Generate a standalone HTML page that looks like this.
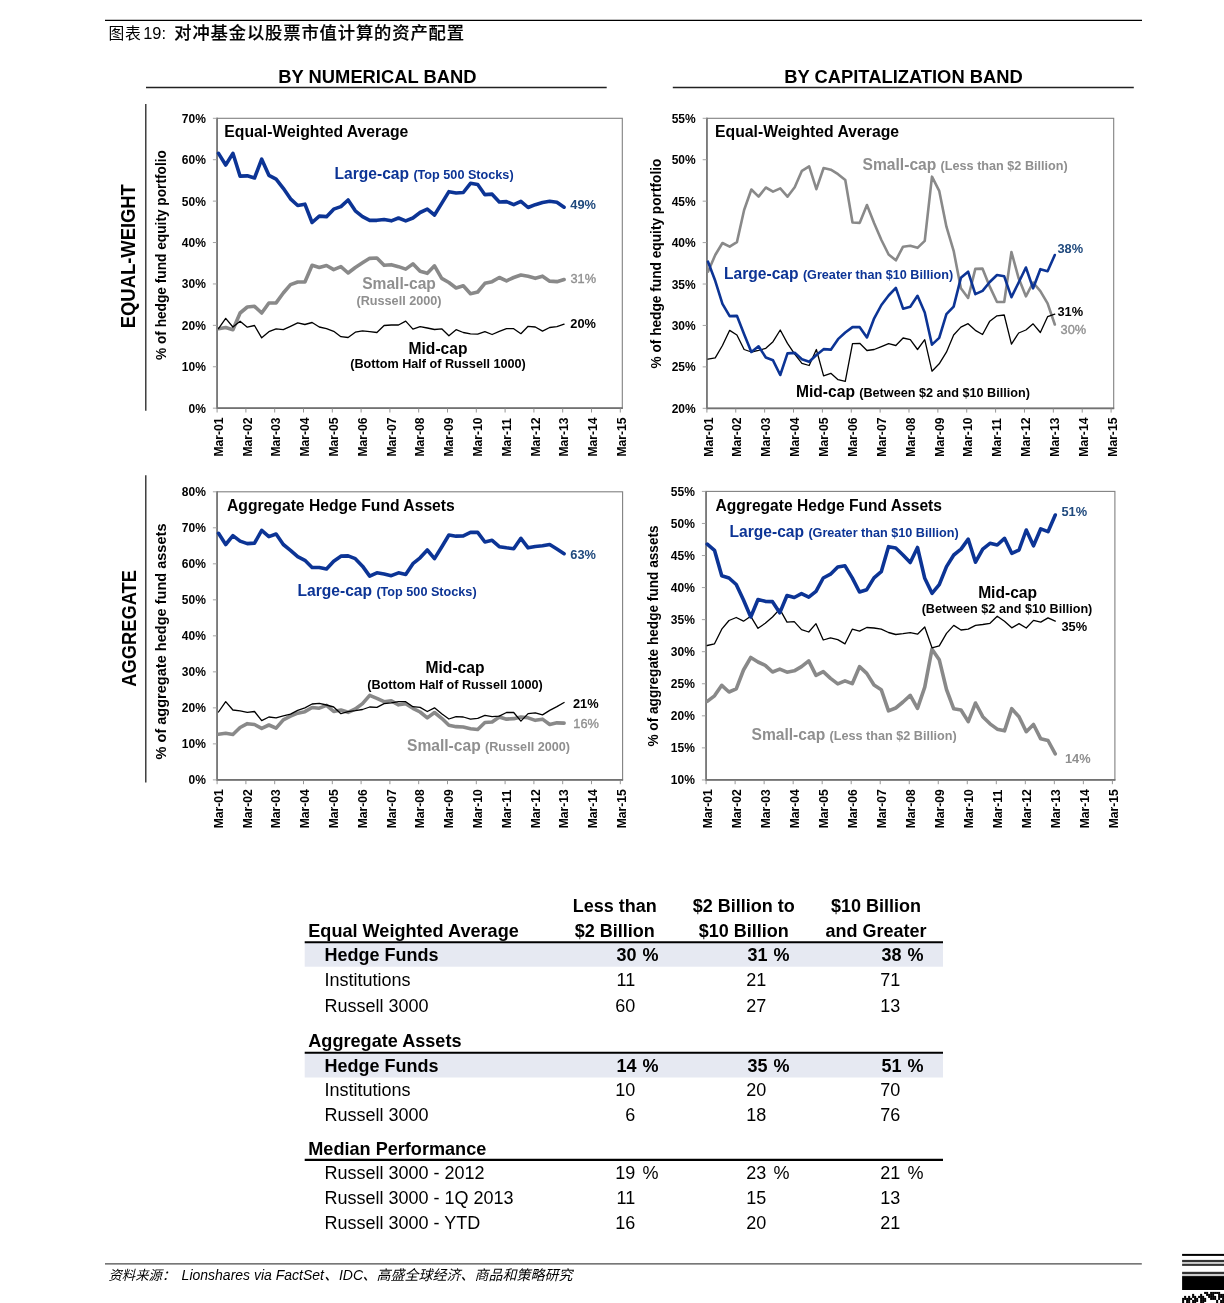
<!DOCTYPE html>
<html lang="zh"><head><meta charset="utf-8"><title>图表19</title>
<style>html,body{margin:0;padding:0;background:#fff}body{width:1224px;height:1303px;position:relative;overflow:hidden;font-family:"Liberation Sans","Noto Sans CJK SC",sans-serif}</style>
</head><body>
<svg width="1224" height="1303" viewBox="0 0 1224 1303" font-family="Liberation Sans, sans-serif" style="position:absolute;left:0;top:0">
<line x1="105" y1="20.4" x2="1142" y2="20.4" stroke="#000" stroke-width="1.2"/>
<text y="38.9" fill="#000" style="font-family:'Liberation Sans','Noto Sans CJK SC',sans-serif"><tspan x="108.5" font-size="15.8" letter-spacing="0.8">图表</tspan><tspan x="143.2" y="39.3" font-size="16.4">19:</tspan> <tspan x="174.3" y="39.3" font-size="17.3" letter-spacing="0.88" font-weight="500" stroke="#000" stroke-width="0.18">对冲基金以股票市值计算的资产配置</tspan></text>
<text x="377.4" y="82.6" font-size="18.35" font-weight="bold" fill="#000" text-anchor="middle" >BY NUMERICAL BAND</text>
<text x="903.5" y="82.6" font-size="18.35" font-weight="bold" fill="#000" text-anchor="middle" >BY CAPITALIZATION BAND</text>
<line x1="146" y1="87.5" x2="606.7" y2="87.5" stroke="#222" stroke-width="1.4"/>
<line x1="672.8" y1="87.5" x2="1133.8" y2="87.5" stroke="#222" stroke-width="1.4"/>
<line x1="145.8" y1="104" x2="145.8" y2="410.8" stroke="#222" stroke-width="1.3"/>
<line x1="145.8" y1="475.2" x2="145.8" y2="782.6" stroke="#222" stroke-width="1.3"/>
<text transform="translate(135.4,256.2) scale(1.06,1) rotate(-90)" font-size="18.4" font-weight="bold" fill="#000" text-anchor="middle">EQUAL-WEIGHT</text>
<text transform="translate(135.5,628.4) scale(1.06,1) rotate(-90)" font-size="18.3" font-weight="bold" fill="#000" text-anchor="middle">AGGREGATE</text>
<rect x="217.1" y="118.3" width="405.19999999999993" height="289.9" fill="none" stroke="#808080" stroke-width="1.1"/>
<line x1="217.1" y1="117.8" x2="217.1" y2="409.09999999999997" stroke="#7a7a7a" stroke-width="1.8"/>
<line x1="217.1" y1="408.2" x2="622.8" y2="408.2" stroke="#727272" stroke-width="1.7"/>
<line x1="212.9" y1="118.30" x2="217.1" y2="118.30" stroke="#9a9a9a" stroke-width="0.9"/>
<text x="205.90" y="122.80" font-size="12" font-weight="bold" fill="#000" text-anchor="end" >70%</text>
<line x1="212.9" y1="159.71" x2="217.1" y2="159.71" stroke="#9a9a9a" stroke-width="0.9"/>
<text x="205.90" y="164.21" font-size="12" font-weight="bold" fill="#000" text-anchor="end" >60%</text>
<line x1="212.9" y1="201.12" x2="217.1" y2="201.12" stroke="#9a9a9a" stroke-width="0.9"/>
<text x="205.90" y="205.62" font-size="12" font-weight="bold" fill="#000" text-anchor="end" >50%</text>
<line x1="212.9" y1="242.53" x2="217.1" y2="242.53" stroke="#9a9a9a" stroke-width="0.9"/>
<text x="205.90" y="247.03" font-size="12" font-weight="bold" fill="#000" text-anchor="end" >40%</text>
<line x1="212.9" y1="283.94" x2="217.1" y2="283.94" stroke="#9a9a9a" stroke-width="0.9"/>
<text x="205.90" y="288.44" font-size="12" font-weight="bold" fill="#000" text-anchor="end" >30%</text>
<line x1="212.9" y1="325.35" x2="217.1" y2="325.35" stroke="#9a9a9a" stroke-width="0.9"/>
<text x="205.90" y="329.85" font-size="12" font-weight="bold" fill="#000" text-anchor="end" >20%</text>
<line x1="212.9" y1="366.76" x2="217.1" y2="366.76" stroke="#9a9a9a" stroke-width="0.9"/>
<text x="205.90" y="371.26" font-size="12" font-weight="bold" fill="#000" text-anchor="end" >10%</text>
<line x1="212.9" y1="408.17" x2="217.1" y2="408.17" stroke="#9a9a9a" stroke-width="0.9"/>
<text x="205.90" y="412.67" font-size="12" font-weight="bold" fill="#000" text-anchor="end" >0%</text>
<line x1="217.10" y1="408.2" x2="217.10" y2="412.5" stroke="#8a8a8a" stroke-width="0.9"/>
<text transform="translate(222.80,456.59999999999997) scale(1.06,1) rotate(-90)" font-size="12.15" font-weight="bold" fill="#000" text-anchor="start">Mar-01</text>
<line x1="245.90" y1="408.2" x2="245.90" y2="412.5" stroke="#8a8a8a" stroke-width="0.9"/>
<text transform="translate(251.60,456.59999999999997) scale(1.06,1) rotate(-90)" font-size="12.15" font-weight="bold" fill="#000" text-anchor="start">Mar-02</text>
<line x1="274.70" y1="408.2" x2="274.70" y2="412.5" stroke="#8a8a8a" stroke-width="0.9"/>
<text transform="translate(280.40,456.59999999999997) scale(1.06,1) rotate(-90)" font-size="12.15" font-weight="bold" fill="#000" text-anchor="start">Mar-03</text>
<line x1="303.50" y1="408.2" x2="303.50" y2="412.5" stroke="#8a8a8a" stroke-width="0.9"/>
<text transform="translate(309.20,456.59999999999997) scale(1.06,1) rotate(-90)" font-size="12.15" font-weight="bold" fill="#000" text-anchor="start">Mar-04</text>
<line x1="332.30" y1="408.2" x2="332.30" y2="412.5" stroke="#8a8a8a" stroke-width="0.9"/>
<text transform="translate(338.00,456.59999999999997) scale(1.06,1) rotate(-90)" font-size="12.15" font-weight="bold" fill="#000" text-anchor="start">Mar-05</text>
<line x1="361.10" y1="408.2" x2="361.10" y2="412.5" stroke="#8a8a8a" stroke-width="0.9"/>
<text transform="translate(366.80,456.59999999999997) scale(1.06,1) rotate(-90)" font-size="12.15" font-weight="bold" fill="#000" text-anchor="start">Mar-06</text>
<line x1="389.90" y1="408.2" x2="389.90" y2="412.5" stroke="#8a8a8a" stroke-width="0.9"/>
<text transform="translate(395.60,456.59999999999997) scale(1.06,1) rotate(-90)" font-size="12.15" font-weight="bold" fill="#000" text-anchor="start">Mar-07</text>
<line x1="418.70" y1="408.2" x2="418.70" y2="412.5" stroke="#8a8a8a" stroke-width="0.9"/>
<text transform="translate(424.40,456.59999999999997) scale(1.06,1) rotate(-90)" font-size="12.15" font-weight="bold" fill="#000" text-anchor="start">Mar-08</text>
<line x1="447.50" y1="408.2" x2="447.50" y2="412.5" stroke="#8a8a8a" stroke-width="0.9"/>
<text transform="translate(453.20,456.59999999999997) scale(1.06,1) rotate(-90)" font-size="12.15" font-weight="bold" fill="#000" text-anchor="start">Mar-09</text>
<line x1="476.30" y1="408.2" x2="476.30" y2="412.5" stroke="#8a8a8a" stroke-width="0.9"/>
<text transform="translate(482.00,456.59999999999997) scale(1.06,1) rotate(-90)" font-size="12.15" font-weight="bold" fill="#000" text-anchor="start">Mar-10</text>
<line x1="505.10" y1="408.2" x2="505.10" y2="412.5" stroke="#8a8a8a" stroke-width="0.9"/>
<text transform="translate(510.80,456.59999999999997) scale(1.06,1) rotate(-90)" font-size="12.15" font-weight="bold" fill="#000" text-anchor="start">Mar-11</text>
<line x1="533.90" y1="408.2" x2="533.90" y2="412.5" stroke="#8a8a8a" stroke-width="0.9"/>
<text transform="translate(539.60,456.59999999999997) scale(1.06,1) rotate(-90)" font-size="12.15" font-weight="bold" fill="#000" text-anchor="start">Mar-12</text>
<line x1="562.70" y1="408.2" x2="562.70" y2="412.5" stroke="#8a8a8a" stroke-width="0.9"/>
<text transform="translate(568.40,456.59999999999997) scale(1.06,1) rotate(-90)" font-size="12.15" font-weight="bold" fill="#000" text-anchor="start">Mar-13</text>
<line x1="591.50" y1="408.2" x2="591.50" y2="412.5" stroke="#8a8a8a" stroke-width="0.9"/>
<text transform="translate(597.20,456.59999999999997) scale(1.06,1) rotate(-90)" font-size="12.15" font-weight="bold" fill="#000" text-anchor="start">Mar-14</text>
<line x1="620.30" y1="408.2" x2="620.30" y2="412.5" stroke="#8a8a8a" stroke-width="0.9"/>
<text transform="translate(626.00,456.59999999999997) scale(1.06,1) rotate(-90)" font-size="12.15" font-weight="bold" fill="#000" text-anchor="start">Mar-15</text>
<text transform="translate(166.2,255.1) scale(1.06,1) rotate(-90)" font-size="13.7" font-weight="bold" fill="#000" text-anchor="middle">% of hedge fund equity portfolio</text>
<polyline points="218.50,328.67 225.70,327.50 232.90,329.67 240.10,313.00 247.30,307.00 254.50,306.33 261.70,313.00 268.90,303.00 276.10,302.83 283.30,293.00 290.50,284.67 297.70,282.00 304.90,282.00 312.10,265.33 319.30,267.50 326.50,265.50 333.70,269.67 340.90,266.67 348.10,273.00 355.30,267.50 362.50,262.83 369.70,258.33 376.90,258.00 384.10,265.33 391.30,264.67 398.50,266.67 405.70,269.17 412.90,263.83 420.10,271.33 427.30,273.33 434.50,265.83 441.70,278.33 448.90,282.50 456.10,288.00 463.30,285.83 470.50,293.67 477.70,292.00 484.90,283.33 492.10,281.67 499.30,277.50 506.50,280.83 513.70,277.50 520.90,275.00 528.10,276.33 535.30,278.33 542.50,276.17 549.70,281.17 556.90,281.67 564.10,279.50" fill="none" stroke="#898989" stroke-width="3.6" stroke-linejoin="round" stroke-linecap="round"/>
<polyline points="218.50,328.67 225.70,318.33 232.90,327.00 240.10,321.17 247.30,327.17 254.50,325.50 261.70,337.83 268.90,331.67 276.10,328.83 283.30,329.67 290.50,326.33 297.70,322.83 304.90,324.50 312.10,322.50 319.30,327.00 326.50,328.67 333.70,331.33 340.90,336.67 348.10,337.50 355.30,332.17 362.50,330.83 369.70,331.67 376.90,332.50 384.10,325.50 391.30,325.00 398.50,325.00 405.70,321.17 412.90,329.17 420.10,326.67 427.30,328.00 434.50,329.50 441.70,328.83 448.90,335.83 456.10,329.67 463.30,332.50 470.50,333.83 477.70,334.17 484.90,331.67 492.10,334.50 499.30,331.33 506.50,328.67 513.70,328.67 520.90,333.67 528.10,326.33 535.30,327.00 542.50,331.17 549.70,327.50 556.90,326.67 564.10,324.17" fill="none" stroke="#000" stroke-width="1.3" stroke-linejoin="round" stroke-linecap="round"/>
<polyline points="218.50,153.33 225.70,165.00 232.90,153.33 240.10,176.17 247.30,175.83 254.50,178.00 261.70,159.17 268.90,175.33 276.10,179.17 283.30,188.33 290.50,198.83 297.70,205.50 304.90,204.17 312.10,222.50 319.30,216.17 326.50,216.67 333.70,209.17 340.90,206.67 348.10,200.00 355.30,210.83 362.50,216.67 369.70,220.33 376.90,220.33 384.10,219.50 391.30,220.83 398.50,218.00 405.70,220.83 412.90,218.00 420.10,212.50 427.30,209.17 434.50,215.00 441.70,203.33 448.90,191.67 456.10,193.00 463.30,192.50 470.50,183.33 477.70,184.50 484.90,194.67 492.10,194.17 499.30,202.00 506.50,201.67 513.70,204.67 520.90,201.33 528.10,207.50 535.30,204.67 542.50,202.50 549.70,201.33 556.90,202.17 564.10,207.17" fill="none" stroke="#0C3495" stroke-width="3.6" stroke-linejoin="round" stroke-linecap="round"/>
<text x="224.3" y="137" font-size="15.75" font-weight="bold" fill="#000" text-anchor="start" >Equal-Weighted Average</text>
<text x="334.5" y="178.7" font-size="15.6" font-weight="bold" fill="#0C3495">Large-cap <tspan font-size="12.65">(Top 500 Stocks)</tspan></text>
<text x="570.3" y="209.3" font-size="12.8" font-weight="bold" fill="#1F497D" text-anchor="start" >49%</text>
<text x="399" y="289.2" font-size="15.6" font-weight="bold" fill="#8F8F8F" text-anchor="middle" >Small-cap</text>
<text x="399" y="304.7" font-size="12.65" font-weight="bold" fill="#8F8F8F" text-anchor="middle" >(Russell 2000)</text>
<text x="570.5" y="282.6" font-size="12.8" font-weight="normal" fill="#8F8F8F" text-anchor="start" stroke="#8F8F8F" stroke-width="0.35">31%</text>
<text x="570.3" y="327.5" font-size="12.8" font-weight="bold" fill="#000" text-anchor="start" >20%</text>
<text x="438" y="353.5" font-size="15.6" font-weight="bold" fill="#000" text-anchor="middle" >Mid-cap</text>
<text x="438" y="368.4" font-size="12.65" font-weight="bold" fill="#000" text-anchor="middle" >(Bottom Half of Russell 1000)</text>
<rect x="706.9" y="118.3" width="406.80000000000007" height="290.0" fill="none" stroke="#808080" stroke-width="1.1"/>
<line x1="706.9" y1="117.8" x2="706.9" y2="409.2" stroke="#7a7a7a" stroke-width="1.8"/>
<line x1="706.9" y1="408.3" x2="1114.2" y2="408.3" stroke="#727272" stroke-width="1.7"/>
<line x1="702.6999999999999" y1="118.30" x2="706.9" y2="118.30" stroke="#9a9a9a" stroke-width="0.9"/>
<text x="695.70" y="122.80" font-size="12" font-weight="bold" fill="#000" text-anchor="end" >55%</text>
<line x1="702.6999999999999" y1="159.73" x2="706.9" y2="159.73" stroke="#9a9a9a" stroke-width="0.9"/>
<text x="695.70" y="164.23" font-size="12" font-weight="bold" fill="#000" text-anchor="end" >50%</text>
<line x1="702.6999999999999" y1="201.16" x2="706.9" y2="201.16" stroke="#9a9a9a" stroke-width="0.9"/>
<text x="695.70" y="205.66" font-size="12" font-weight="bold" fill="#000" text-anchor="end" >45%</text>
<line x1="702.6999999999999" y1="242.59" x2="706.9" y2="242.59" stroke="#9a9a9a" stroke-width="0.9"/>
<text x="695.70" y="247.09" font-size="12" font-weight="bold" fill="#000" text-anchor="end" >40%</text>
<line x1="702.6999999999999" y1="284.02" x2="706.9" y2="284.02" stroke="#9a9a9a" stroke-width="0.9"/>
<text x="695.70" y="288.52" font-size="12" font-weight="bold" fill="#000" text-anchor="end" >35%</text>
<line x1="702.6999999999999" y1="325.45" x2="706.9" y2="325.45" stroke="#9a9a9a" stroke-width="0.9"/>
<text x="695.70" y="329.95" font-size="12" font-weight="bold" fill="#000" text-anchor="end" >30%</text>
<line x1="702.6999999999999" y1="366.88" x2="706.9" y2="366.88" stroke="#9a9a9a" stroke-width="0.9"/>
<text x="695.70" y="371.38" font-size="12" font-weight="bold" fill="#000" text-anchor="end" >25%</text>
<line x1="702.6999999999999" y1="408.31" x2="706.9" y2="408.31" stroke="#9a9a9a" stroke-width="0.9"/>
<text x="695.70" y="412.81" font-size="12" font-weight="bold" fill="#000" text-anchor="end" >20%</text>
<line x1="706.90" y1="408.3" x2="706.90" y2="412.6" stroke="#8a8a8a" stroke-width="0.9"/>
<text transform="translate(712.60,456.7) scale(1.06,1) rotate(-90)" font-size="12.15" font-weight="bold" fill="#000" text-anchor="start">Mar-01</text>
<line x1="735.77" y1="408.3" x2="735.77" y2="412.6" stroke="#8a8a8a" stroke-width="0.9"/>
<text transform="translate(741.47,456.7) scale(1.06,1) rotate(-90)" font-size="12.15" font-weight="bold" fill="#000" text-anchor="start">Mar-02</text>
<line x1="764.64" y1="408.3" x2="764.64" y2="412.6" stroke="#8a8a8a" stroke-width="0.9"/>
<text transform="translate(770.34,456.7) scale(1.06,1) rotate(-90)" font-size="12.15" font-weight="bold" fill="#000" text-anchor="start">Mar-03</text>
<line x1="793.51" y1="408.3" x2="793.51" y2="412.6" stroke="#8a8a8a" stroke-width="0.9"/>
<text transform="translate(799.21,456.7) scale(1.06,1) rotate(-90)" font-size="12.15" font-weight="bold" fill="#000" text-anchor="start">Mar-04</text>
<line x1="822.38" y1="408.3" x2="822.38" y2="412.6" stroke="#8a8a8a" stroke-width="0.9"/>
<text transform="translate(828.08,456.7) scale(1.06,1) rotate(-90)" font-size="12.15" font-weight="bold" fill="#000" text-anchor="start">Mar-05</text>
<line x1="851.25" y1="408.3" x2="851.25" y2="412.6" stroke="#8a8a8a" stroke-width="0.9"/>
<text transform="translate(856.95,456.7) scale(1.06,1) rotate(-90)" font-size="12.15" font-weight="bold" fill="#000" text-anchor="start">Mar-06</text>
<line x1="880.12" y1="408.3" x2="880.12" y2="412.6" stroke="#8a8a8a" stroke-width="0.9"/>
<text transform="translate(885.82,456.7) scale(1.06,1) rotate(-90)" font-size="12.15" font-weight="bold" fill="#000" text-anchor="start">Mar-07</text>
<line x1="908.99" y1="408.3" x2="908.99" y2="412.6" stroke="#8a8a8a" stroke-width="0.9"/>
<text transform="translate(914.69,456.7) scale(1.06,1) rotate(-90)" font-size="12.15" font-weight="bold" fill="#000" text-anchor="start">Mar-08</text>
<line x1="937.86" y1="408.3" x2="937.86" y2="412.6" stroke="#8a8a8a" stroke-width="0.9"/>
<text transform="translate(943.56,456.7) scale(1.06,1) rotate(-90)" font-size="12.15" font-weight="bold" fill="#000" text-anchor="start">Mar-09</text>
<line x1="966.73" y1="408.3" x2="966.73" y2="412.6" stroke="#8a8a8a" stroke-width="0.9"/>
<text transform="translate(972.43,456.7) scale(1.06,1) rotate(-90)" font-size="12.15" font-weight="bold" fill="#000" text-anchor="start">Mar-10</text>
<line x1="995.60" y1="408.3" x2="995.60" y2="412.6" stroke="#8a8a8a" stroke-width="0.9"/>
<text transform="translate(1001.30,456.7) scale(1.06,1) rotate(-90)" font-size="12.15" font-weight="bold" fill="#000" text-anchor="start">Mar-11</text>
<line x1="1024.47" y1="408.3" x2="1024.47" y2="412.6" stroke="#8a8a8a" stroke-width="0.9"/>
<text transform="translate(1030.17,456.7) scale(1.06,1) rotate(-90)" font-size="12.15" font-weight="bold" fill="#000" text-anchor="start">Mar-12</text>
<line x1="1053.34" y1="408.3" x2="1053.34" y2="412.6" stroke="#8a8a8a" stroke-width="0.9"/>
<text transform="translate(1059.04,456.7) scale(1.06,1) rotate(-90)" font-size="12.15" font-weight="bold" fill="#000" text-anchor="start">Mar-13</text>
<line x1="1082.21" y1="408.3" x2="1082.21" y2="412.6" stroke="#8a8a8a" stroke-width="0.9"/>
<text transform="translate(1087.91,456.7) scale(1.06,1) rotate(-90)" font-size="12.15" font-weight="bold" fill="#000" text-anchor="start">Mar-14</text>
<line x1="1111.08" y1="408.3" x2="1111.08" y2="412.6" stroke="#8a8a8a" stroke-width="0.9"/>
<text transform="translate(1116.78,456.7) scale(1.06,1) rotate(-90)" font-size="12.15" font-weight="bold" fill="#000" text-anchor="start">Mar-15</text>
<text transform="translate(660.5,263.6) scale(1.06,1) rotate(-90)" font-size="13.7" font-weight="bold" fill="#000" text-anchor="middle">% of hedge fund equity portfolio</text>
<polyline points="708.00,271.67 715.23,255.00 722.45,243.00 729.67,246.67 736.90,242.17 744.12,210.00 751.35,189.50 758.58,196.67 765.80,187.50 773.02,191.67 780.25,188.33 787.48,196.67 794.70,187.17 801.92,170.83 809.15,166.33 816.38,189.17 823.60,168.00 830.83,169.67 838.05,174.17 845.27,180.00 852.50,222.50 859.73,222.83 866.95,205.00 874.17,223.33 881.40,240.00 888.62,254.50 895.85,260.33 903.08,246.67 910.30,245.83 917.52,247.83 924.75,240.83 931.98,176.67 939.20,190.83 946.42,226.67 953.65,250.83 960.88,288.33 968.10,298.00 975.33,268.83 982.55,268.67 989.77,286.67 997.00,302.00 1004.22,302.00 1011.45,252.00 1018.67,278.33 1025.90,296.33 1033.12,282.50 1040.35,291.17 1047.58,303.33 1054.80,324.50" fill="none" stroke="#898989" stroke-width="2.6" stroke-linejoin="round" stroke-linecap="round"/>
<polyline points="708.00,359.17 715.23,357.83 722.45,345.50 729.67,330.33 736.90,335.00 744.12,349.50 751.35,352.00 758.58,350.33 765.80,348.33 773.02,341.67 780.25,330.00 787.48,343.33 794.70,354.17 801.92,363.33 809.15,365.50 816.38,349.50 823.60,375.83 830.83,373.33 838.05,379.67 845.27,381.33 852.50,343.67 859.73,343.33 866.95,350.50 874.17,349.50 881.40,346.67 888.62,343.67 895.85,345.50 903.08,338.00 910.30,339.67 917.52,349.50 924.75,339.67 931.98,371.17 939.20,363.83 946.42,352.17 953.65,335.00 960.88,327.17 968.10,323.67 975.33,330.33 982.55,334.50 989.77,321.17 997.00,315.83 1004.22,315.00 1011.45,344.17 1018.67,333.00 1025.90,330.00 1033.12,323.83 1040.35,332.50 1047.58,316.67 1054.80,314.17" fill="none" stroke="#000" stroke-width="1.3" stroke-linejoin="round" stroke-linecap="round"/>
<polyline points="708.00,261.67 715.23,280.83 722.45,303.83 729.67,316.17 736.90,315.83 744.12,334.17 751.35,352.00 758.58,346.33 765.80,357.50 773.02,360.33 780.25,375.00 787.48,353.33 794.70,352.83 801.92,359.17 809.15,361.67 816.38,355.00 823.60,349.17 830.83,349.67 838.05,339.17 845.27,332.50 852.50,327.17 859.73,327.17 866.95,337.50 874.17,318.33 881.40,305.00 888.62,295.50 895.85,287.83 903.08,308.67 910.30,306.67 917.52,295.83 924.75,312.50 931.98,344.67 939.20,337.83 946.42,314.17 953.65,306.67 960.88,277.83 968.10,271.67 975.33,294.17 982.55,290.83 989.77,282.00 997.00,275.00 1004.22,276.33 1011.45,297.17 1018.67,282.50 1025.90,267.50 1033.12,288.33 1040.35,269.17 1047.58,271.17 1054.80,255.00" fill="none" stroke="#0C3495" stroke-width="2.6" stroke-linejoin="round" stroke-linecap="round"/>
<text x="715" y="137" font-size="15.75" font-weight="bold" fill="#000" text-anchor="start" >Equal-Weighted Average</text>
<text x="862.6" y="170" font-size="15.6" font-weight="bold" fill="#8F8F8F">Small-cap <tspan font-size="12.65">(Less than $2 Billion)</tspan></text>
<text x="724" y="278.5" font-size="15.6" font-weight="bold" fill="#0C3495">Large-cap <tspan font-size="12.65">(Greater than $10 Billion)</tspan></text>
<text x="796" y="397" font-size="15.6" font-weight="bold" fill="#000">Mid-cap <tspan font-size="12.65">(Between $2 and $10 Billion)</tspan></text>
<text x="1057.5" y="252.7" font-size="12.8" font-weight="bold" fill="#1F497D" text-anchor="start" >38%</text>
<text x="1057.5" y="316.3" font-size="12.8" font-weight="bold" fill="#000" text-anchor="start" >31%</text>
<text x="1060.6" y="334.4" font-size="12.8" font-weight="normal" fill="#8F8F8F" text-anchor="start" stroke="#8F8F8F" stroke-width="0.35">30%</text>
<rect x="217.1" y="491.8" width="405.5" height="288.09999999999997" fill="none" stroke="#808080" stroke-width="1.1"/>
<line x1="217.1" y1="491.3" x2="217.1" y2="780.8" stroke="#7a7a7a" stroke-width="1.8"/>
<line x1="217.1" y1="779.9" x2="623.1" y2="779.9" stroke="#727272" stroke-width="1.7"/>
<line x1="212.9" y1="491.80" x2="217.1" y2="491.80" stroke="#9a9a9a" stroke-width="0.9"/>
<text x="205.90" y="496.30" font-size="12" font-weight="bold" fill="#000" text-anchor="end" >80%</text>
<line x1="212.9" y1="527.81" x2="217.1" y2="527.81" stroke="#9a9a9a" stroke-width="0.9"/>
<text x="205.90" y="532.31" font-size="12" font-weight="bold" fill="#000" text-anchor="end" >70%</text>
<line x1="212.9" y1="563.82" x2="217.1" y2="563.82" stroke="#9a9a9a" stroke-width="0.9"/>
<text x="205.90" y="568.32" font-size="12" font-weight="bold" fill="#000" text-anchor="end" >60%</text>
<line x1="212.9" y1="599.83" x2="217.1" y2="599.83" stroke="#9a9a9a" stroke-width="0.9"/>
<text x="205.90" y="604.33" font-size="12" font-weight="bold" fill="#000" text-anchor="end" >50%</text>
<line x1="212.9" y1="635.84" x2="217.1" y2="635.84" stroke="#9a9a9a" stroke-width="0.9"/>
<text x="205.90" y="640.34" font-size="12" font-weight="bold" fill="#000" text-anchor="end" >40%</text>
<line x1="212.9" y1="671.85" x2="217.1" y2="671.85" stroke="#9a9a9a" stroke-width="0.9"/>
<text x="205.90" y="676.35" font-size="12" font-weight="bold" fill="#000" text-anchor="end" >30%</text>
<line x1="212.9" y1="707.86" x2="217.1" y2="707.86" stroke="#9a9a9a" stroke-width="0.9"/>
<text x="205.90" y="712.36" font-size="12" font-weight="bold" fill="#000" text-anchor="end" >20%</text>
<line x1="212.9" y1="743.87" x2="217.1" y2="743.87" stroke="#9a9a9a" stroke-width="0.9"/>
<text x="205.90" y="748.37" font-size="12" font-weight="bold" fill="#000" text-anchor="end" >10%</text>
<line x1="212.9" y1="779.88" x2="217.1" y2="779.88" stroke="#9a9a9a" stroke-width="0.9"/>
<text x="205.90" y="784.38" font-size="12" font-weight="bold" fill="#000" text-anchor="end" >0%</text>
<line x1="217.10" y1="779.9" x2="217.10" y2="784.1999999999999" stroke="#8a8a8a" stroke-width="0.9"/>
<text transform="translate(222.80,828.3) scale(1.06,1) rotate(-90)" font-size="12.15" font-weight="bold" fill="#000" text-anchor="start">Mar-01</text>
<line x1="245.90" y1="779.9" x2="245.90" y2="784.1999999999999" stroke="#8a8a8a" stroke-width="0.9"/>
<text transform="translate(251.60,828.3) scale(1.06,1) rotate(-90)" font-size="12.15" font-weight="bold" fill="#000" text-anchor="start">Mar-02</text>
<line x1="274.70" y1="779.9" x2="274.70" y2="784.1999999999999" stroke="#8a8a8a" stroke-width="0.9"/>
<text transform="translate(280.40,828.3) scale(1.06,1) rotate(-90)" font-size="12.15" font-weight="bold" fill="#000" text-anchor="start">Mar-03</text>
<line x1="303.50" y1="779.9" x2="303.50" y2="784.1999999999999" stroke="#8a8a8a" stroke-width="0.9"/>
<text transform="translate(309.20,828.3) scale(1.06,1) rotate(-90)" font-size="12.15" font-weight="bold" fill="#000" text-anchor="start">Mar-04</text>
<line x1="332.30" y1="779.9" x2="332.30" y2="784.1999999999999" stroke="#8a8a8a" stroke-width="0.9"/>
<text transform="translate(338.00,828.3) scale(1.06,1) rotate(-90)" font-size="12.15" font-weight="bold" fill="#000" text-anchor="start">Mar-05</text>
<line x1="361.10" y1="779.9" x2="361.10" y2="784.1999999999999" stroke="#8a8a8a" stroke-width="0.9"/>
<text transform="translate(366.80,828.3) scale(1.06,1) rotate(-90)" font-size="12.15" font-weight="bold" fill="#000" text-anchor="start">Mar-06</text>
<line x1="389.90" y1="779.9" x2="389.90" y2="784.1999999999999" stroke="#8a8a8a" stroke-width="0.9"/>
<text transform="translate(395.60,828.3) scale(1.06,1) rotate(-90)" font-size="12.15" font-weight="bold" fill="#000" text-anchor="start">Mar-07</text>
<line x1="418.70" y1="779.9" x2="418.70" y2="784.1999999999999" stroke="#8a8a8a" stroke-width="0.9"/>
<text transform="translate(424.40,828.3) scale(1.06,1) rotate(-90)" font-size="12.15" font-weight="bold" fill="#000" text-anchor="start">Mar-08</text>
<line x1="447.50" y1="779.9" x2="447.50" y2="784.1999999999999" stroke="#8a8a8a" stroke-width="0.9"/>
<text transform="translate(453.20,828.3) scale(1.06,1) rotate(-90)" font-size="12.15" font-weight="bold" fill="#000" text-anchor="start">Mar-09</text>
<line x1="476.30" y1="779.9" x2="476.30" y2="784.1999999999999" stroke="#8a8a8a" stroke-width="0.9"/>
<text transform="translate(482.00,828.3) scale(1.06,1) rotate(-90)" font-size="12.15" font-weight="bold" fill="#000" text-anchor="start">Mar-10</text>
<line x1="505.10" y1="779.9" x2="505.10" y2="784.1999999999999" stroke="#8a8a8a" stroke-width="0.9"/>
<text transform="translate(510.80,828.3) scale(1.06,1) rotate(-90)" font-size="12.15" font-weight="bold" fill="#000" text-anchor="start">Mar-11</text>
<line x1="533.90" y1="779.9" x2="533.90" y2="784.1999999999999" stroke="#8a8a8a" stroke-width="0.9"/>
<text transform="translate(539.60,828.3) scale(1.06,1) rotate(-90)" font-size="12.15" font-weight="bold" fill="#000" text-anchor="start">Mar-12</text>
<line x1="562.70" y1="779.9" x2="562.70" y2="784.1999999999999" stroke="#8a8a8a" stroke-width="0.9"/>
<text transform="translate(568.40,828.3) scale(1.06,1) rotate(-90)" font-size="12.15" font-weight="bold" fill="#000" text-anchor="start">Mar-13</text>
<line x1="591.50" y1="779.9" x2="591.50" y2="784.1999999999999" stroke="#8a8a8a" stroke-width="0.9"/>
<text transform="translate(597.20,828.3) scale(1.06,1) rotate(-90)" font-size="12.15" font-weight="bold" fill="#000" text-anchor="start">Mar-14</text>
<line x1="620.30" y1="779.9" x2="620.30" y2="784.1999999999999" stroke="#8a8a8a" stroke-width="0.9"/>
<text transform="translate(626.00,828.3) scale(1.06,1) rotate(-90)" font-size="12.15" font-weight="bold" fill="#000" text-anchor="start">Mar-15</text>
<text transform="translate(165.8,641.5) scale(1.06,1) rotate(-90)" font-size="14.55" font-weight="bold" fill="#000" text-anchor="middle">% of aggregate hedge fund assets</text>
<polyline points="218.50,734.17 225.70,733.33 232.90,734.50 240.10,727.50 247.30,723.67 254.50,724.50 261.70,728.33 268.90,725.00 276.10,728.17 283.30,719.83 290.50,716.17 297.70,713.17 304.90,711.67 312.10,707.50 319.30,708.17 326.50,705.33 333.70,711.50 340.90,710.00 348.10,712.33 355.30,709.00 362.50,703.67 369.70,695.33 376.90,698.33 384.10,701.67 391.30,700.83 398.50,704.83 405.70,703.67 412.90,708.33 420.10,712.00 427.30,717.83 434.50,712.50 441.70,718.33 448.90,725.33 456.10,726.67 463.30,727.00 470.50,728.67 477.70,729.50 484.90,722.50 492.10,722.00 499.30,717.00 506.50,719.17 513.70,718.67 520.90,717.00 528.10,717.83 535.30,720.33 542.50,719.17 549.70,724.50 556.90,722.83 564.10,723.17" fill="none" stroke="#898989" stroke-width="3.6" stroke-linejoin="round" stroke-linecap="round"/>
<polyline points="218.50,712.00 225.70,701.67 232.90,710.00 240.10,710.83 247.30,712.33 254.50,711.50 261.70,720.67 268.90,717.00 276.10,717.83 283.30,715.83 290.50,714.17 297.70,710.33 304.90,707.83 312.10,704.00 319.30,703.33 326.50,705.00 333.70,707.00 340.90,713.67 348.10,711.67 355.30,710.67 362.50,709.50 369.70,707.00 376.90,707.33 384.10,703.67 391.30,702.83 398.50,701.67 405.70,701.67 412.90,706.67 420.10,707.33 427.30,711.50 434.50,707.83 441.70,713.67 448.90,719.00 456.10,716.67 463.30,717.00 470.50,719.17 477.70,718.33 484.90,715.33 492.10,716.67 499.30,716.17 506.50,712.50 513.70,712.50 520.90,721.17 528.10,713.67 535.30,712.83 542.50,714.83 549.70,710.33 556.90,706.67 564.10,702.50" fill="none" stroke="#000" stroke-width="1.3" stroke-linejoin="round" stroke-linecap="round"/>
<polyline points="218.50,533.33 225.70,544.50 232.90,535.67 240.10,541.17 247.30,543.67 254.50,543.17 261.70,530.33 268.90,536.67 276.10,534.00 283.30,544.50 290.50,550.33 297.70,556.67 304.90,560.33 312.10,567.50 319.30,567.50 326.50,569.00 333.70,561.17 340.90,556.17 348.10,555.83 355.30,558.67 362.50,566.17 369.70,576.17 376.90,572.83 384.10,574.00 391.30,575.67 398.50,572.83 405.70,574.50 412.90,563.67 420.10,557.83 427.30,550.00 434.50,558.67 441.70,547.00 448.90,535.00 456.10,536.17 463.30,535.83 470.50,532.33 477.70,532.33 484.90,542.00 492.10,540.33 499.30,546.67 506.50,547.83 513.70,548.67 520.90,538.33 528.10,547.83 535.30,546.50 542.50,545.83 549.70,544.50 556.90,549.00 564.10,553.67" fill="none" stroke="#0C3495" stroke-width="3.6" stroke-linejoin="round" stroke-linecap="round"/>
<text x="227" y="510.5" font-size="15.7" font-weight="bold" fill="#000" text-anchor="start" >Aggregate Hedge Fund Assets</text>
<text x="297.5" y="596" font-size="15.6" font-weight="bold" fill="#0C3495">Large-cap <tspan font-size="12.65">(Top 500 Stocks)</tspan></text>
<text x="570.3" y="559" font-size="12.8" font-weight="bold" fill="#1F497D" text-anchor="start" >63%</text>
<text x="455" y="673" font-size="15.6" font-weight="bold" fill="#000" text-anchor="middle" >Mid-cap</text>
<text x="455" y="689" font-size="12.65" font-weight="bold" fill="#000" text-anchor="middle" >(Bottom Half of Russell 1000)</text>
<text x="573" y="707.5" font-size="12.8" font-weight="bold" fill="#000" text-anchor="start" >21%</text>
<text x="573.3" y="728.2" font-size="12.8" font-weight="normal" fill="#8F8F8F" text-anchor="start" stroke="#8F8F8F" stroke-width="0.35">16%</text>
<text x="407" y="751" font-size="15.6" font-weight="bold" fill="#8F8F8F">Small-cap <tspan font-size="12.65">(Russell 2000)</tspan></text>
<rect x="706.1" y="491.4" width="408.80000000000007" height="288.5" fill="none" stroke="#808080" stroke-width="1.1"/>
<line x1="706.1" y1="490.9" x2="706.1" y2="780.8" stroke="#7a7a7a" stroke-width="1.8"/>
<line x1="706.1" y1="779.9" x2="1115.4" y2="779.9" stroke="#727272" stroke-width="1.7"/>
<line x1="701.9" y1="491.40" x2="706.1" y2="491.40" stroke="#9a9a9a" stroke-width="0.9"/>
<text x="694.90" y="495.90" font-size="12" font-weight="bold" fill="#000" text-anchor="end" >55%</text>
<line x1="701.9" y1="523.46" x2="706.1" y2="523.46" stroke="#9a9a9a" stroke-width="0.9"/>
<text x="694.90" y="527.96" font-size="12" font-weight="bold" fill="#000" text-anchor="end" >50%</text>
<line x1="701.9" y1="555.52" x2="706.1" y2="555.52" stroke="#9a9a9a" stroke-width="0.9"/>
<text x="694.90" y="560.02" font-size="12" font-weight="bold" fill="#000" text-anchor="end" >45%</text>
<line x1="701.9" y1="587.58" x2="706.1" y2="587.58" stroke="#9a9a9a" stroke-width="0.9"/>
<text x="694.90" y="592.08" font-size="12" font-weight="bold" fill="#000" text-anchor="end" >40%</text>
<line x1="701.9" y1="619.64" x2="706.1" y2="619.64" stroke="#9a9a9a" stroke-width="0.9"/>
<text x="694.90" y="624.14" font-size="12" font-weight="bold" fill="#000" text-anchor="end" >35%</text>
<line x1="701.9" y1="651.70" x2="706.1" y2="651.70" stroke="#9a9a9a" stroke-width="0.9"/>
<text x="694.90" y="656.20" font-size="12" font-weight="bold" fill="#000" text-anchor="end" >30%</text>
<line x1="701.9" y1="683.76" x2="706.1" y2="683.76" stroke="#9a9a9a" stroke-width="0.9"/>
<text x="694.90" y="688.26" font-size="12" font-weight="bold" fill="#000" text-anchor="end" >25%</text>
<line x1="701.9" y1="715.82" x2="706.1" y2="715.82" stroke="#9a9a9a" stroke-width="0.9"/>
<text x="694.90" y="720.32" font-size="12" font-weight="bold" fill="#000" text-anchor="end" >20%</text>
<line x1="701.9" y1="747.88" x2="706.1" y2="747.88" stroke="#9a9a9a" stroke-width="0.9"/>
<text x="694.90" y="752.38" font-size="12" font-weight="bold" fill="#000" text-anchor="end" >15%</text>
<line x1="701.9" y1="779.94" x2="706.1" y2="779.94" stroke="#9a9a9a" stroke-width="0.9"/>
<text x="694.90" y="784.44" font-size="12" font-weight="bold" fill="#000" text-anchor="end" >10%</text>
<line x1="706.10" y1="779.9" x2="706.10" y2="784.1999999999999" stroke="#8a8a8a" stroke-width="0.9"/>
<text transform="translate(711.80,828.3) scale(1.06,1) rotate(-90)" font-size="12.15" font-weight="bold" fill="#000" text-anchor="start">Mar-01</text>
<line x1="735.12" y1="779.9" x2="735.12" y2="784.1999999999999" stroke="#8a8a8a" stroke-width="0.9"/>
<text transform="translate(740.82,828.3) scale(1.06,1) rotate(-90)" font-size="12.15" font-weight="bold" fill="#000" text-anchor="start">Mar-02</text>
<line x1="764.14" y1="779.9" x2="764.14" y2="784.1999999999999" stroke="#8a8a8a" stroke-width="0.9"/>
<text transform="translate(769.84,828.3) scale(1.06,1) rotate(-90)" font-size="12.15" font-weight="bold" fill="#000" text-anchor="start">Mar-03</text>
<line x1="793.16" y1="779.9" x2="793.16" y2="784.1999999999999" stroke="#8a8a8a" stroke-width="0.9"/>
<text transform="translate(798.86,828.3) scale(1.06,1) rotate(-90)" font-size="12.15" font-weight="bold" fill="#000" text-anchor="start">Mar-04</text>
<line x1="822.18" y1="779.9" x2="822.18" y2="784.1999999999999" stroke="#8a8a8a" stroke-width="0.9"/>
<text transform="translate(827.88,828.3) scale(1.06,1) rotate(-90)" font-size="12.15" font-weight="bold" fill="#000" text-anchor="start">Mar-05</text>
<line x1="851.20" y1="779.9" x2="851.20" y2="784.1999999999999" stroke="#8a8a8a" stroke-width="0.9"/>
<text transform="translate(856.90,828.3) scale(1.06,1) rotate(-90)" font-size="12.15" font-weight="bold" fill="#000" text-anchor="start">Mar-06</text>
<line x1="880.22" y1="779.9" x2="880.22" y2="784.1999999999999" stroke="#8a8a8a" stroke-width="0.9"/>
<text transform="translate(885.92,828.3) scale(1.06,1) rotate(-90)" font-size="12.15" font-weight="bold" fill="#000" text-anchor="start">Mar-07</text>
<line x1="909.24" y1="779.9" x2="909.24" y2="784.1999999999999" stroke="#8a8a8a" stroke-width="0.9"/>
<text transform="translate(914.94,828.3) scale(1.06,1) rotate(-90)" font-size="12.15" font-weight="bold" fill="#000" text-anchor="start">Mar-08</text>
<line x1="938.26" y1="779.9" x2="938.26" y2="784.1999999999999" stroke="#8a8a8a" stroke-width="0.9"/>
<text transform="translate(943.96,828.3) scale(1.06,1) rotate(-90)" font-size="12.15" font-weight="bold" fill="#000" text-anchor="start">Mar-09</text>
<line x1="967.28" y1="779.9" x2="967.28" y2="784.1999999999999" stroke="#8a8a8a" stroke-width="0.9"/>
<text transform="translate(972.98,828.3) scale(1.06,1) rotate(-90)" font-size="12.15" font-weight="bold" fill="#000" text-anchor="start">Mar-10</text>
<line x1="996.30" y1="779.9" x2="996.30" y2="784.1999999999999" stroke="#8a8a8a" stroke-width="0.9"/>
<text transform="translate(1002.00,828.3) scale(1.06,1) rotate(-90)" font-size="12.15" font-weight="bold" fill="#000" text-anchor="start">Mar-11</text>
<line x1="1025.32" y1="779.9" x2="1025.32" y2="784.1999999999999" stroke="#8a8a8a" stroke-width="0.9"/>
<text transform="translate(1031.02,828.3) scale(1.06,1) rotate(-90)" font-size="12.15" font-weight="bold" fill="#000" text-anchor="start">Mar-12</text>
<line x1="1054.34" y1="779.9" x2="1054.34" y2="784.1999999999999" stroke="#8a8a8a" stroke-width="0.9"/>
<text transform="translate(1060.04,828.3) scale(1.06,1) rotate(-90)" font-size="12.15" font-weight="bold" fill="#000" text-anchor="start">Mar-13</text>
<line x1="1083.36" y1="779.9" x2="1083.36" y2="784.1999999999999" stroke="#8a8a8a" stroke-width="0.9"/>
<text transform="translate(1089.06,828.3) scale(1.06,1) rotate(-90)" font-size="12.15" font-weight="bold" fill="#000" text-anchor="start">Mar-14</text>
<line x1="1112.38" y1="779.9" x2="1112.38" y2="784.1999999999999" stroke="#8a8a8a" stroke-width="0.9"/>
<text transform="translate(1118.08,828.3) scale(1.06,1) rotate(-90)" font-size="12.15" font-weight="bold" fill="#000" text-anchor="start">Mar-15</text>
<text transform="translate(658,636) scale(1.06,1) rotate(-90)" font-size="13.65" font-weight="bold" fill="#000" text-anchor="middle">% of aggregate hedge fund assets</text>
<polyline points="707.25,701.33 714.50,695.83 721.75,685.33 729.00,692.00 736.25,688.83 743.50,670.00 750.75,657.50 758.00,662.00 765.25,665.33 772.50,672.00 779.75,669.17 787.00,672.17 794.25,670.83 801.50,666.67 808.75,660.83 816.00,675.33 823.25,671.67 830.50,678.33 837.75,683.83 845.00,680.83 852.25,683.67 859.50,666.67 866.75,673.33 874.00,685.00 881.25,689.67 888.50,710.83 895.75,708.00 903.00,702.00 910.25,695.33 917.50,708.33 924.75,687.17 932.00,649.17 939.25,659.67 946.50,689.50 953.75,708.83 961.00,710.00 968.25,721.67 975.50,703.00 982.75,716.67 990.00,723.83 997.25,729.17 1004.50,730.83 1011.75,708.67 1019.00,716.67 1026.25,731.67 1033.50,724.50 1040.75,738.83 1048.00,740.50 1055.25,753.83" fill="none" stroke="#898989" stroke-width="3.6" stroke-linejoin="round" stroke-linecap="round"/>
<polyline points="707.25,645.50 714.50,643.83 721.75,629.17 729.00,620.50 736.25,617.50 743.50,621.17 750.75,616.33 758.00,628.33 765.25,623.33 772.50,617.00 779.75,609.17 787.00,622.17 794.25,621.67 801.50,629.67 808.75,632.00 816.00,623.67 823.25,640.00 830.50,637.83 837.75,639.67 845.00,643.83 852.25,629.17 859.50,631.17 866.75,627.50 874.00,628.00 881.25,629.17 888.50,632.50 895.75,634.50 903.00,633.67 910.25,632.67 917.50,634.17 924.75,627.00 932.00,647.83 939.25,645.83 946.50,633.33 953.75,625.33 961.00,630.00 968.25,629.17 975.50,625.33 982.75,624.50 990.00,623.33 997.25,616.17 1004.50,621.17 1011.75,627.83 1019.00,623.67 1026.25,628.00 1033.50,620.33 1040.75,622.17 1048.00,617.83 1055.25,621.17" fill="none" stroke="#000" stroke-width="1.3" stroke-linejoin="round" stroke-linecap="round"/>
<polyline points="707.25,544.17 714.50,550.33 721.75,575.83 729.00,578.00 736.25,584.50 743.50,600.00 750.75,617.00 758.00,599.50 765.25,601.33 772.50,601.67 779.75,612.83 787.00,595.50 794.25,597.50 801.50,593.67 808.75,597.17 816.00,591.33 823.25,578.00 830.50,574.17 837.75,567.00 845.00,565.83 852.25,577.83 859.50,592.00 866.75,589.67 874.00,577.83 881.25,571.67 888.50,546.67 895.75,548.00 903.00,555.00 910.25,562.50 917.50,547.50 924.75,578.33 932.00,593.33 939.25,584.67 946.50,566.67 953.75,555.00 961.00,549.17 968.25,539.17 975.50,562.17 982.75,549.17 990.00,543.33 997.25,545.00 1004.50,538.33 1011.75,553.33 1019.00,550.00 1026.25,530.00 1033.50,545.83 1040.75,528.83 1048.00,531.67 1055.25,515.00" fill="none" stroke="#0C3495" stroke-width="3.6" stroke-linejoin="round" stroke-linecap="round"/>
<text x="715.5" y="510.5" font-size="15.6" font-weight="bold" fill="#000" text-anchor="start" >Aggregate Hedge Fund Assets</text>
<text x="729.5" y="537" font-size="15.6" font-weight="bold" fill="#0C3495">Large-cap <tspan font-size="12.65">(Greater than $10 Billion)</tspan></text>
<text x="1007.6" y="597.5" font-size="15.6" font-weight="bold" fill="#000" text-anchor="middle" >Mid-cap</text>
<text x="1007" y="612.5" font-size="12.65" font-weight="bold" fill="#000" text-anchor="middle" >(Between $2 and $10 Billion)</text>
<text x="1061.5" y="516" font-size="12.8" font-weight="bold" fill="#1F497D" text-anchor="start" >51%</text>
<text x="1061.5" y="631" font-size="12.8" font-weight="bold" fill="#000" text-anchor="start" >35%</text>
<text x="1065" y="762.5" font-size="12.8" font-weight="bold" fill="#8F8F8F" text-anchor="start" >14%</text>
<text x="751.5" y="740" font-size="15.6" font-weight="bold" fill="#8F8F8F">Small-cap <tspan font-size="12.65">(Less than $2 Billion)</tspan></text>
<rect x="304.7" y="942.5" width="638.3" height="24.2" fill="#E6E9F2"/>
<rect x="304.7" y="1053" width="638.3" height="24.5" fill="#E6E9F2"/>
<line x1="304.7" y1="942.3" x2="943" y2="942.3" stroke="#000" stroke-width="2.1"/>
<line x1="304.7" y1="1052.7" x2="943" y2="1052.7" stroke="#000" stroke-width="2.1"/>
<line x1="304.7" y1="1159.9" x2="943" y2="1159.9" stroke="#000" stroke-width="2.1"/>
<text x="614.8" y="912.1" font-size="18" font-weight="bold" fill="#000" text-anchor="middle" >Less than</text>
<text x="614.8" y="936.5" font-size="18" font-weight="bold" fill="#000" text-anchor="middle" >$2 Billion</text>
<text x="743.7" y="912.1" font-size="18" font-weight="bold" fill="#000" text-anchor="middle" >$2 Billion to</text>
<text x="743.7" y="936.5" font-size="18" font-weight="bold" fill="#000" text-anchor="middle" >$10 Billion</text>
<text x="876" y="912.1" font-size="18" font-weight="bold" fill="#000" text-anchor="middle" >$10 Billion</text>
<text x="876" y="936.5" font-size="18" font-weight="bold" fill="#000" text-anchor="middle" >and Greater</text>
<text x="308.3" y="937" font-size="18.1" font-weight="bold" fill="#000" text-anchor="start" >Equal Weighted Average</text>
<text x="308.3" y="1047.3" font-size="18.1" font-weight="bold" fill="#000" text-anchor="start" >Aggregate Assets</text>
<text x="308.3" y="1155" font-size="18.1" font-weight="bold" fill="#000" text-anchor="start" >Median Performance</text>
<text x="324.5" y="961.0" font-size="18" font-weight="bold" fill="#000" text-anchor="start" >Hedge Funds</text>
<text x="616.58" y="961.0" font-size="18" font-weight="bold" fill="#000">30 <tspan dx="0.90">%</tspan></text>
<text x="747.58" y="961.0" font-size="18" font-weight="bold" fill="#000">31 <tspan dx="0.90">%</tspan></text>
<text x="881.58" y="961.0" font-size="18" font-weight="bold" fill="#000">38 <tspan dx="0.90">%</tspan></text>
<text x="324.5" y="985.6" font-size="18" font-weight="normal" fill="#000" text-anchor="start" >Institutions</text>
<text x="635.3" y="985.6" font-size="18" font-weight="normal" fill="#000" text-anchor="end" >11</text>
<text x="766.3" y="985.6" font-size="18" font-weight="normal" fill="#000" text-anchor="end" >21</text>
<text x="900.3" y="985.6" font-size="18" font-weight="normal" fill="#000" text-anchor="end" >71</text>
<text x="324.5" y="1011.9" font-size="18" font-weight="normal" fill="#000" text-anchor="start" >Russell 3000</text>
<text x="635.3" y="1011.9" font-size="18" font-weight="normal" fill="#000" text-anchor="end" >60</text>
<text x="766.3" y="1011.9" font-size="18" font-weight="normal" fill="#000" text-anchor="end" >27</text>
<text x="900.3" y="1011.9" font-size="18" font-weight="normal" fill="#000" text-anchor="end" >13</text>
<text x="324.5" y="1071.6" font-size="18" font-weight="bold" fill="#000" text-anchor="start" >Hedge Funds</text>
<text x="616.58" y="1071.6" font-size="18" font-weight="bold" fill="#000">14 <tspan dx="0.90">%</tspan></text>
<text x="747.58" y="1071.6" font-size="18" font-weight="bold" fill="#000">35 <tspan dx="0.90">%</tspan></text>
<text x="881.58" y="1071.6" font-size="18" font-weight="bold" fill="#000">51 <tspan dx="0.90">%</tspan></text>
<text x="324.5" y="1095.7" font-size="18" font-weight="normal" fill="#000" text-anchor="start" >Institutions</text>
<text x="635.3" y="1095.7" font-size="18" font-weight="normal" fill="#000" text-anchor="end" >10</text>
<text x="766.3" y="1095.7" font-size="18" font-weight="normal" fill="#000" text-anchor="end" >20</text>
<text x="900.3" y="1095.7" font-size="18" font-weight="normal" fill="#000" text-anchor="end" >70</text>
<text x="324.5" y="1120.8" font-size="18" font-weight="normal" fill="#000" text-anchor="start" >Russell 3000</text>
<text x="635.3" y="1120.8" font-size="18" font-weight="normal" fill="#000" text-anchor="end" >6</text>
<text x="766.3" y="1120.8" font-size="18" font-weight="normal" fill="#000" text-anchor="end" >18</text>
<text x="900.3" y="1120.8" font-size="18" font-weight="normal" fill="#000" text-anchor="end" >76</text>
<text x="324.5" y="1179.2" font-size="18" font-weight="normal" fill="#000" text-anchor="start" >Russell 3000 - 2012</text>
<text x="615.28" y="1179.2" font-size="18" font-weight="normal" fill="#000">19 <tspan dx="2.20">%</tspan></text>
<text x="746.28" y="1179.2" font-size="18" font-weight="normal" fill="#000">23 <tspan dx="2.20">%</tspan></text>
<text x="880.28" y="1179.2" font-size="18" font-weight="normal" fill="#000">21 <tspan dx="2.20">%</tspan></text>
<text x="324.5" y="1203.5" font-size="18" font-weight="normal" fill="#000" text-anchor="start" >Russell 3000 - 1Q 2013</text>
<text x="635.3" y="1203.5" font-size="18" font-weight="normal" fill="#000" text-anchor="end" >11</text>
<text x="766.3" y="1203.5" font-size="18" font-weight="normal" fill="#000" text-anchor="end" >15</text>
<text x="900.3" y="1203.5" font-size="18" font-weight="normal" fill="#000" text-anchor="end" >13</text>
<text x="324.5" y="1228.7" font-size="18" font-weight="normal" fill="#000" text-anchor="start" >Russell 3000 - YTD</text>
<text x="635.3" y="1228.7" font-size="18" font-weight="normal" fill="#000" text-anchor="end" >16</text>
<text x="766.3" y="1228.7" font-size="18" font-weight="normal" fill="#000" text-anchor="end" >20</text>
<text x="900.3" y="1228.7" font-size="18" font-weight="normal" fill="#000" text-anchor="end" >21</text>
<line x1="105" y1="1263.9" x2="1141.8" y2="1263.9" stroke="#4a4a4a" stroke-width="1.2"/>
<text y="1280" font-size="14" font-style="italic" fill="#000" style="font-family:'Liberation Sans','Noto Sans CJK SC',sans-serif"><tspan x="108.4" font-size="13.4">资料来源：</tspan><tspan x="181.6">Lionshares via FactSet</tspan><tspan x="324.3">、</tspan><tspan x="338.9">IDC</tspan><tspan x="362.6">、高盛全球经济、商品和策略研究</tspan></text>
<rect x="1182.1" y="1253.9" width="42" height="2.00" fill="#000"/>
<rect x="1182.1" y="1259.9" width="42" height="2.10" fill="#333"/>
<rect x="1182.1" y="1262" width="42" height="1.90" fill="#ccc"/>
<rect x="1182.1" y="1263.9" width="42" height="2.00" fill="#333"/>
<rect x="1182.1" y="1271.8" width="42" height="2.20" fill="#333"/>
<rect x="1182.1" y="1274" width="42" height="2.10" fill="#ccc"/>
<rect x="1182.1" y="1276.1" width="42" height="13.90" fill="#000"/>
<rect x="1204.1" y="1291.9" width="2.05" height="2.05" fill="#000"/>
<rect x="1206.1" y="1291.9" width="2.05" height="2.05" fill="#000"/>
<rect x="1210.1" y="1291.9" width="2.05" height="2.05" fill="#000"/>
<rect x="1212.1" y="1291.9" width="2.05" height="2.05" fill="#000"/>
<rect x="1214.1" y="1291.9" width="2.05" height="2.05" fill="#000"/>
<rect x="1216.1" y="1291.9" width="2.05" height="2.05" fill="#000"/>
<rect x="1218.1" y="1291.9" width="2.05" height="2.05" fill="#000"/>
<rect x="1192.1" y="1293.9" width="2.05" height="2.05" fill="#000"/>
<rect x="1200.1" y="1293.9" width="2.05" height="2.05" fill="#000"/>
<rect x="1206.1" y="1293.9" width="2.05" height="2.05" fill="#000"/>
<rect x="1208.1" y="1293.9" width="2.05" height="2.05" fill="#000"/>
<rect x="1210.1" y="1293.9" width="2.05" height="2.05" fill="#000"/>
<rect x="1212.1" y="1293.9" width="2.05" height="2.05" fill="#000"/>
<rect x="1218.1" y="1293.9" width="2.05" height="2.05" fill="#000"/>
<rect x="1220.1" y="1293.9" width="2.05" height="2.05" fill="#000"/>
<rect x="1222.1" y="1293.9" width="2.05" height="2.05" fill="#000"/>
<rect x="1184.1" y="1295.9" width="2.05" height="2.05" fill="#000"/>
<rect x="1188.1" y="1295.9" width="2.05" height="2.05" fill="#000"/>
<rect x="1192.1" y="1295.9" width="2.05" height="2.05" fill="#000"/>
<rect x="1194.1" y="1295.9" width="2.05" height="2.05" fill="#000"/>
<rect x="1198.1" y="1295.9" width="2.05" height="2.05" fill="#000"/>
<rect x="1200.1" y="1295.9" width="2.05" height="2.05" fill="#000"/>
<rect x="1202.1" y="1295.9" width="2.05" height="2.05" fill="#000"/>
<rect x="1208.1" y="1295.9" width="2.05" height="2.05" fill="#000"/>
<rect x="1210.1" y="1295.9" width="2.05" height="2.05" fill="#000"/>
<rect x="1212.1" y="1295.9" width="2.05" height="2.05" fill="#000"/>
<rect x="1214.1" y="1295.9" width="2.05" height="2.05" fill="#000"/>
<rect x="1218.1" y="1295.9" width="2.05" height="2.05" fill="#000"/>
<rect x="1220.1" y="1295.9" width="2.05" height="2.05" fill="#000"/>
<rect x="1222.1" y="1295.9" width="2.05" height="2.05" fill="#000"/>
<rect x="1182.1" y="1297.9" width="2.05" height="2.05" fill="#000"/>
<rect x="1184.1" y="1297.9" width="2.05" height="2.05" fill="#000"/>
<rect x="1186.1" y="1297.9" width="2.05" height="2.05" fill="#000"/>
<rect x="1188.1" y="1297.9" width="2.05" height="2.05" fill="#000"/>
<rect x="1190.1" y="1297.9" width="2.05" height="2.05" fill="#000"/>
<rect x="1194.1" y="1297.9" width="2.05" height="2.05" fill="#000"/>
<rect x="1196.1" y="1297.9" width="2.05" height="2.05" fill="#000"/>
<rect x="1200.1" y="1297.9" width="2.05" height="2.05" fill="#000"/>
<rect x="1202.1" y="1297.9" width="2.05" height="2.05" fill="#000"/>
<rect x="1204.1" y="1297.9" width="2.05" height="2.05" fill="#000"/>
<rect x="1210.1" y="1297.9" width="2.05" height="2.05" fill="#000"/>
<rect x="1212.1" y="1297.9" width="2.05" height="2.05" fill="#000"/>
<rect x="1214.1" y="1297.9" width="2.05" height="2.05" fill="#000"/>
<rect x="1218.1" y="1297.9" width="2.05" height="2.05" fill="#000"/>
<rect x="1222.1" y="1297.9" width="2.05" height="2.05" fill="#000"/>
<rect x="1182.1" y="1299.9" width="2.05" height="2.05" fill="#000"/>
<rect x="1186.1" y="1299.9" width="2.05" height="2.05" fill="#000"/>
<rect x="1188.1" y="1299.9" width="2.05" height="2.05" fill="#000"/>
<rect x="1192.1" y="1299.9" width="2.05" height="2.05" fill="#000"/>
<rect x="1194.1" y="1299.9" width="2.05" height="2.05" fill="#000"/>
<rect x="1196.1" y="1299.9" width="2.05" height="2.05" fill="#000"/>
<rect x="1200.1" y="1299.9" width="2.05" height="2.05" fill="#000"/>
<rect x="1202.1" y="1299.9" width="2.05" height="2.05" fill="#000"/>
<rect x="1204.1" y="1299.9" width="2.05" height="2.05" fill="#000"/>
<rect x="1216.1" y="1299.9" width="2.05" height="2.05" fill="#000"/>
<rect x="1220.1" y="1299.9" width="2.05" height="2.05" fill="#000"/>
<rect x="1222.1" y="1299.9" width="2.05" height="2.05" fill="#000"/>
<rect x="1182.1" y="1301.9" width="2.05" height="2.05" fill="#000"/>
<rect x="1186.1" y="1301.9" width="2.05" height="2.05" fill="#000"/>
<rect x="1188.1" y="1301.9" width="2.05" height="2.05" fill="#000"/>
<rect x="1192.1" y="1301.9" width="2.05" height="2.05" fill="#000"/>
<rect x="1194.1" y="1301.9" width="2.05" height="2.05" fill="#000"/>
<rect x="1200.1" y="1301.9" width="2.05" height="2.05" fill="#000"/>
<rect x="1202.1" y="1301.9" width="2.05" height="2.05" fill="#000"/>
<rect x="1216.1" y="1301.9" width="2.05" height="2.05" fill="#000"/>
<rect x="1220.1" y="1301.9" width="2.05" height="2.05" fill="#000"/>
<rect x="1222.1" y="1301.9" width="2.05" height="2.05" fill="#000"/>
</svg>
</body></html>
